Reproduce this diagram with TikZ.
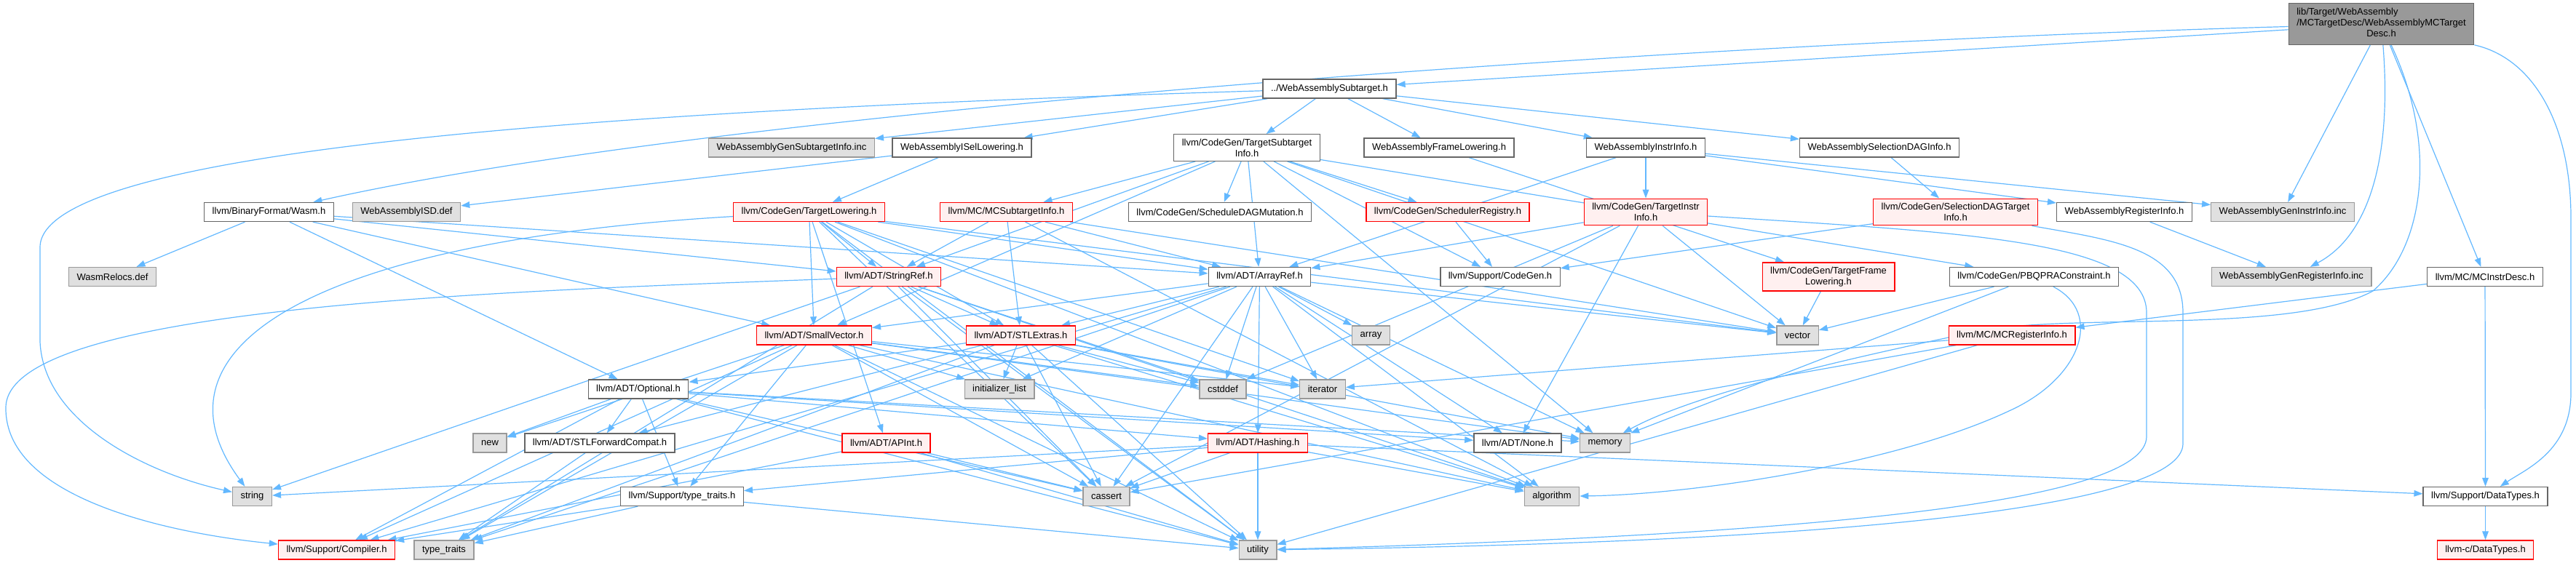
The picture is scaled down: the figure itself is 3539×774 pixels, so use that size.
\documentclass[tikz,border=0pt]{standalone}
\usepackage{fontspec}
\setmainfont{Liberation Sans}
\usepackage{xcolor}
\usetikzlibrary{arrows.meta,backgrounds}

\definecolor{edgeblue}{HTML}{63B8FF}
\definecolor{boxline}{HTML}{666666}
\definecolor{extfill}{HTML}{E0E0E0}
\definecolor{extline}{HTML}{999999}
\definecolor{redfill}{HTML}{FFF0F0}
\definecolor{rootfill}{HTML}{999999}

\tikzset{
  hdr/.style={draw=boxline, fill=white, line width=1pt, inner xsep=8.25pt, inner ysep=4.5pt,
    minimum height=19.5pt, align=center, font=\fontsize{9.75}{11.25}\selectfont},
  sysbox/.style={hdr, draw=extline, fill=extfill},
  redbox/.style={hdr, draw=red, fill=redfill},
  rootbox/.style={hdr, fill=rootfill},
  inc/.style={draw=edgeblue, line width=0.9pt, -{Triangle[length=9pt,width=6.5pt]}},
}

\begin{document}
\begin{tikzpicture}[x=0.75pt, y=-0.75pt]
    \useasboundingbox (0,0) rectangle (3539,774);
    % headers, row by row
    \node[rootbox] (root) at (3271.5,33) {\begin{tabular}{@{}l@{}}lib/Target/WebAssembly\\/MCTargetDesc/WebAssemblyMCTarget\\\multicolumn{1}{@{}c@{}}{Desc.h}\end{tabular}};
    \node[hdr] (sub) at (1826.5,122) {../WebAssemblySubtarget.h};

    \node[sysbox] (gensub) at (1087.5,203) {WebAssemblyGenSubtargetInfo.inc};
    \node[hdr] (isel) at (1321.5,203) {WebAssemblyISelLowering.h};
    \node[hdr] (tsi) at (1713,203) {llvm/CodeGen/TargetSubtarget\\Info.h};
    \node[hdr] (frame) at (1977,203) {WebAssemblyFrameLowering.h};
    \node[hdr] (instr) at (2261,203) {WebAssemblyInstrInfo.h};
    \node[hdr] (seldag) at (2582,203) {WebAssemblySelectionDAGInfo.h};

    \node[hdr] (wasm) at (369.5,291.5) {llvm/BinaryFormat/Wasm.h};
    \node[sysbox] (isd) at (558.5,291.5) {WebAssemblyISD.def};
    \node[redbox] (tl) at (1111.5,291.5) {llvm/CodeGen/TargetLowering.h};
    \node[redbox] (mcsti) at (1382.5,291.5) {llvm/MC/MCSubtargetInfo.h};
    \node[hdr] (sdm) at (1676,291.5) {llvm/CodeGen/ScheduleDAGMutation.h};
    \node[redbox] (sreg) at (1989,291.5) {llvm/CodeGen/SchedulerRegistry.h};
    \node[redbox] (tii) at (2261,291.5) {llvm/CodeGen/TargetInstr\\Info.h};
    \node[redbox] (sdti) at (2686.5,291.5) {llvm/CodeGen/SelectionDAGTarget\\Info.h};
    \node[hdr] (reginfo) at (2918.5,291.5) {WebAssemblyRegisterInfo.h};
    \node[sysbox] (geninstr) at (3136,291.5) {WebAssemblyGenInstrInfo.inc};

    \node[sysbox] (relocs) at (154.5,380.5) {WasmRelocs.def};
    \node[redbox] (strref) at (1221,380.5) {llvm/ADT/StringRef.h};
    \node[hdr] (arrref) at (1730.5,380.5) {llvm/ADT/ArrayRef.h};
    \node[hdr] (cg) at (2061,380.5) {llvm/Support/CodeGen.h};
    \node[redbox] (tfl) at (2512,380.5) {llvm/CodeGen/TargetFrame\\Lowering.h};
    \node[hdr] (pbqp) at (2794.5,380.5) {llvm/CodeGen/PBQPRAConstraint.h};
    \node[sysbox] (genreg) at (3148,380.5) {WebAssemblyGenRegisterInfo.inc};
    \node[hdr] (mcid) at (3414,380.5) {llvm/MC/MCInstrDesc.h};

    \node[redbox] (smallvec) at (1118.5,461) {llvm/ADT/SmallVector.h};
    \node[redbox] (stlext) at (1402.5,461) {llvm/ADT/STLExtras.h};
    \node[sysbox] (array) at (1883.5,461) {array};
    \node[sysbox] (vector) at (2469.5,461) {vector};
    \node[redbox] (mcri) at (2764,461) {llvm/MC/MCRegisterInfo.h};

    \node[hdr] (optional) at (877,535) {llvm/ADT/Optional.h};
    \node[sysbox] (initlist) at (1373,535) {initializer\_list};
    \node[sysbox] (cstddef) at (1680,535) {cstddef};
    \node[sysbox] (iterator) at (1817,535) {iterator};

    \node[sysbox] (new) at (673,609) {new};
    \node[hdr] (stlfc) at (824,609) {llvm/ADT/STLForwardCompat.h};
    \node[redbox] (apint) at (1217.5,609) {llvm/ADT/APInt.h};
    \node[redbox] (hashing) at (1728,609) {llvm/ADT/Hashing.h};
    \node[hdr] (none) at (2085,609) {llvm/ADT/None.h};
    \node[sysbox] (memory) at (2205,609) {memory};

    \node[sysbox] (string) at (346.5,682.5) {string};
    \node[hdr] (typetraitsh) at (937,682.5) {llvm/Support/type\_traits.h};
    \node[sysbox] (cassert) at (1520,682.5) {cassert};
    \node[sysbox] (algorithm) at (2132,682.5) {algorithm};
    \node[hdr] (datatypes) at (3414.5,682.5) {llvm/Support/DataTypes.h};

    \node[redbox] (compiler) at (462.5,756) {llvm/Support/Compiler.h};
    \node[sysbox] (typetraits) at (610,756) {type\_traits};
    \node[sysbox] (utility) at (1728,756) {utility};
    \node[redbox] (cdatatypes) at (3414.5,756) {llvm-c/DataTypes.h};

    \begin{scope}[on background layer]
    % include edges
    \foreach \t in {sub,geninstr,mcid} \draw[inc] (root) -- (\t);
    \draw[inc] (root) .. controls (2300,60) and (1000,150) .. (wasm);
    \draw[inc] (root) .. controls (3285,200) and (3262,320) .. (genreg);
    \draw[inc] (root) .. controls (3350,200) and (3330,340) .. (3260,400) .. controls (3150,460) and (2850,430) .. (2720,455) .. controls (2550,490) and (2330,540) .. (memory);
    \draw[inc] (root) .. controls (3480,80) and (3532,170) .. (3532,300) -- (3532,540) .. controls (3532,620) and (3470,645) .. (datatypes);

    \foreach \t in {gensub,isel,tsi,frame,instr,seldag} \draw[inc] (sub) -- (\t);
    \draw[inc] (sub) .. controls (900,150) and (55,200) .. (55,340) -- (55,470) .. controls (60,580) and (200,650) .. (string);

    \foreach \t in {isd,tl} \draw[inc] (isel) -- (\t);
    \foreach \t in {arrref,smallvec,strref,mcsti,sdm,sreg,cg,pbqp,memory,vector} \draw[inc] (tsi) -- (\t);
    \draw[inc] (frame) -- (tfl);
    \foreach \t in {tii,arrref,reginfo,geninstr} \draw[inc] (instr) -- (\t);
    \draw[inc] (seldag) -- (sdti);
    \foreach \t in {relocs,optional,smallvec,strref,arrref} \draw[inc] (wasm) -- (\t);

    \foreach \t in {apint,arrref,smallvec,strref,stlext,algorithm,cassert,iterator,utility,vector} \draw[inc] (tl) -- (\t);
    \draw[inc] (tl) .. controls (450,330) and (190,470) .. (string);
    \foreach \t in {strref,stlext,arrref,algorithm,vector} \draw[inc] (mcsti) -- (\t);
    \draw[inc] (sreg) -- (cg);
    \foreach \t in {arrref,none,cassert,cstddef,vector} \draw[inc] (tii) -- (\t);
    \draw[inc] (tii) .. controls (2700,320) and (2949,330) .. (2949,430) -- (2949,600) .. controls (2949,690) and (2500,735) .. (utility);
    \draw[inc] (sdti) -- (cg);
    \draw[inc] (sdti) .. controls (2900,330) and (2999,340) .. (2999,430) -- (2999,610) .. controls (2999,690) and (2600,745) .. (utility);
    \draw[inc] (reginfo) -- (genreg);
    \foreach \t in {mcri,datatypes} \draw[inc] (mcid) -- (\t);

    \foreach \t in {algorithm,cassert,cstddef,string,typetraits,utility,stlext} \draw[inc] (strref) -- (\t);
    \draw[inc] (strref) .. controls (700,400) and (10,420) .. (8,560) .. controls (6,690) and (250,735) .. (compiler);
    \foreach \t in {array,iterator,cstddef,initlist,stlext,smallvec,hashing,none,memory,algorithm,cassert,vector,typetraits,compiler} \draw[inc] (arrref) -- (\t);
    \draw[inc] (tfl) -- (vector);
    \foreach \t in {vector,memory} \draw[inc] (pbqp) -- (\t);
    \draw[inc] (pbqp) .. controls (2890,430) and (2860,520) .. (2760,565) .. controls (2600,640) and (2320,680) .. (algorithm);

    \foreach \t in {compiler,typetraitsh,algorithm,cassert,cstddef,initlist,iterator,memory,new,typetraits,utility} \draw[inc] (smallvec) -- (\t);
    \foreach \t in {optional,stlfc,initlist,cassert,cstddef,iterator,memory,algorithm,typetraits,utility} \draw[inc] (stlext) -- (\t);
    \foreach \t in {iterator,cassert,utility} \draw[inc] (mcri) -- (\t);
    \foreach \t in {new,stlfc,hashing,none,memory,cassert,typetraitsh,compiler,utility} \draw[inc] (optional) -- (\t);
    \draw[inc] (stlfc) -- (typetraits);
    \foreach \t in {cassert,utility,compiler} \draw[inc] (apint) -- (\t);
    \foreach \t in {datatypes,cassert,utility,algorithm,string,typetraitsh} \draw[inc] (hashing) -- (\t);
    \foreach \t in {compiler,typetraits,utility} \draw[inc] (typetraitsh) -- (\t);
    \draw[inc] (datatypes) -- (cdatatypes);
    \end{scope}
\end{tikzpicture}
\end{document}
